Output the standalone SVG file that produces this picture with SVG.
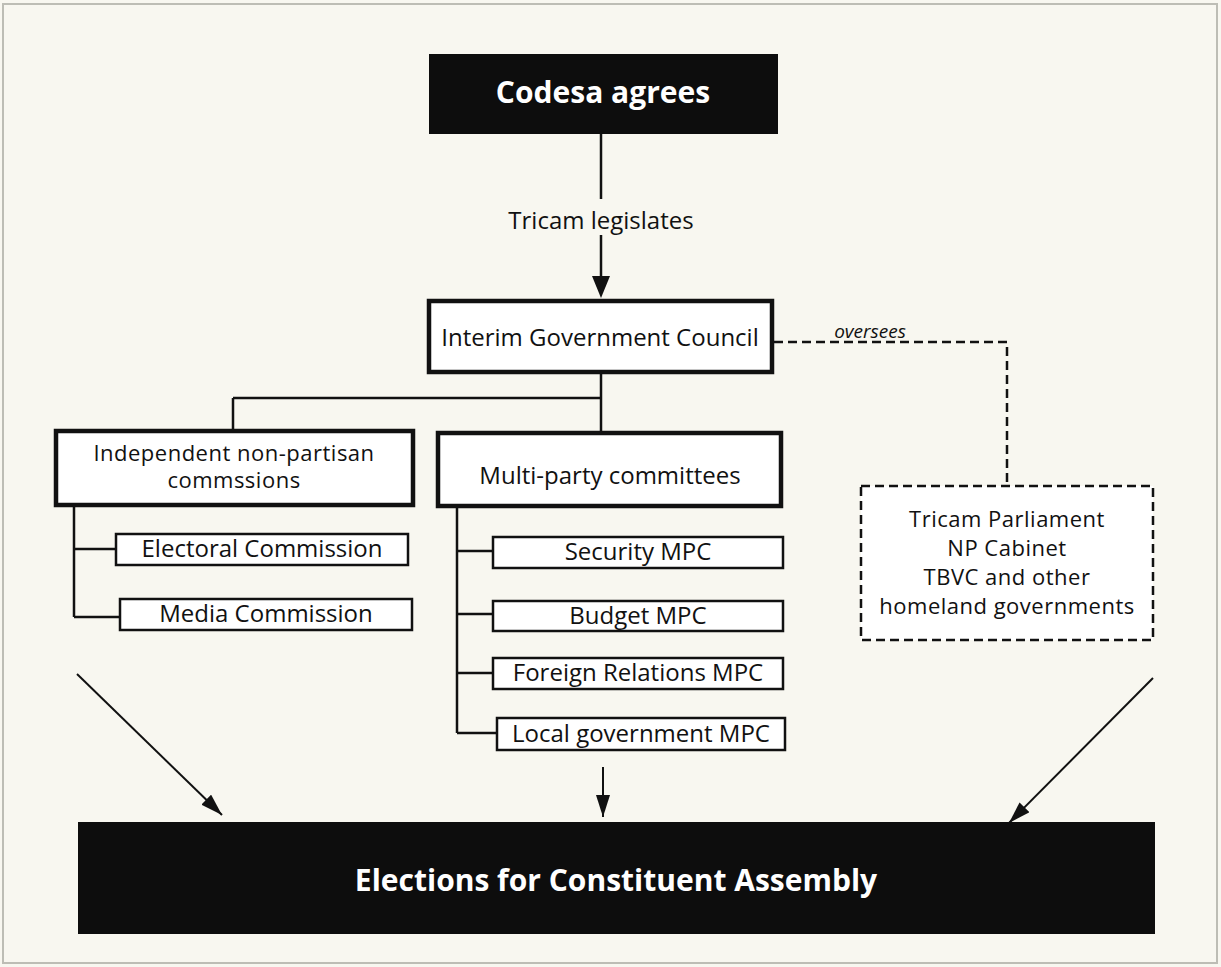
<svg xmlns="http://www.w3.org/2000/svg" width="1221" height="967" viewBox="0 0 1221 967">
<defs>
<style>
.bg{fill:#f8f7f0}
.dark{fill:#0d0d0d}
.wt{fill:#ffffff;font-family:"Open Sans","Noto Sans",sans-serif;font-weight:bold;text-anchor:middle}
.t{fill:#111;font-family:"Open Sans","Noto Sans",sans-serif;font-size:24px;text-anchor:middle}
.ml{font-size:22px;letter-spacing:0.5px}
.main{fill:#fff;stroke:#111;stroke-width:4.5}
.sub{fill:#fff;stroke:#111;stroke-width:2.5}
.dash{fill:#fff;stroke:#111;stroke-width:2.5;stroke-dasharray:9 5}
.ln{fill:none;stroke:#111;stroke-width:2.5}
.dl{fill:none;stroke:#111;stroke-width:2.5;stroke-dasharray:9 5}
.ar{fill:none;stroke:#111;stroke-width:2}
</style>
<marker id="head" markerUnits="userSpaceOnUse" markerWidth="22" markerHeight="14" viewBox="0 0 22 14" refX="22" refY="7" orient="auto">
<path d="M0,0 L22,7 L0,14 Z" fill="#111"/>
</marker>
</defs>
<rect class="bg" x="0" y="0" width="1221" height="967"/>
<rect x="3" y="4" width="1214" height="959" fill="none" stroke="#bdbdb5" stroke-width="2"/>

<g id="connectors">
<line class="ln" x1="601" y1="134" x2="601" y2="199"/>
<path d="M601,235 L601,276" class="ln" stroke-width="3"/>
<path d="M592,276 L610,276 L601,298 Z" fill="#111"/>
<path class="ln" d="M601,373 L601,432 M233,398 L601,398 M233,398 L233,430"/>
<path class="ln" d="M74,506 L74,617 M74,549 L116,549 M74,617 L120,617"/>
<path class="ln" d="M457,507 L457,733 M457,551 L493,551 M457,614 L493,614 M457,673 L493,673 M457,733 L497,733"/>
<path class="dl" d="M774,342 L1007,342 L1007,486"/>
<text x="870" y="338" class="t" style="font-size:19px;font-style:italic">oversees</text>
<line class="ar" x1="77" y1="674" x2="222" y2="815" marker-end="url(#head)"/>
<line class="ar" x1="603" y1="767" x2="603" y2="817" marker-end="url(#head)"/>
<line class="ar" x1="1153" y1="678" x2="1009" y2="823" marker-end="url(#head)"/>
<text x="601" y="229" class="t">Tricam legislates</text>
</g>

<g id="codesa">
<rect class="dark" x="429" y="54" width="349" height="80"/>
<text x="603" y="103" class="wt" font-size="30">Codesa agrees</text>
</g>

<g id="interim">
<rect class="main" x="429" y="301" width="343" height="71"/>
<text x="600" y="346" class="t">Interim Government Council</text>
</g>

<g id="independent">
<rect class="main" x="56" y="431" width="357" height="74"/>
<text x="234" y="461" class="t ml">Independent non-partisan</text>
<text x="234" y="488" class="t ml">commssions</text>
</g>

<g id="electoral">
<rect class="sub" x="116" y="534" width="292" height="31"/>
<text x="262" y="557" class="t">Electoral Commission</text>
</g>

<g id="media">
<rect class="sub" x="120" y="599" width="292" height="31"/>
<text x="266" y="622" class="t">Media Commission</text>
</g>

<g id="multiparty">
<rect class="main" x="438" y="433" width="343" height="73"/>
<text x="610" y="484" class="t">Multi-party committees</text>
</g>

<g id="security">
<rect class="sub" x="493" y="537" width="290" height="31"/>
<text x="638" y="560" class="t">Security MPC</text>
</g>

<g id="budget">
<rect class="sub" x="493" y="601" width="290" height="30"/>
<text x="638" y="624" class="t">Budget MPC</text>
</g>

<g id="foreign">
<rect class="sub" x="493" y="658" width="290" height="31"/>
<text x="638" y="681" class="t">Foreign Relations MPC</text>
</g>

<g id="local">
<rect class="sub" x="497" y="718" width="288" height="32"/>
<text x="641" y="742" class="t">Local government MPC</text>
</g>

<g id="tricam">
<rect class="dash" x="861" y="486" width="292" height="154"/>
<text x="1007" y="527" class="t ml">Tricam Parliament</text>
<text x="1007" y="556" class="t ml">NP Cabinet</text>
<text x="1007" y="585" class="t ml">TBVC and other</text>
<text x="1007" y="614" class="t ml">homeland governments</text>
</g>

<g id="elections">
<rect class="dark" x="78" y="822" width="1077" height="112"/>
<text x="616" y="891" class="wt" font-size="30">Elections for Constituent Assembly</text>
</g>
</svg>
